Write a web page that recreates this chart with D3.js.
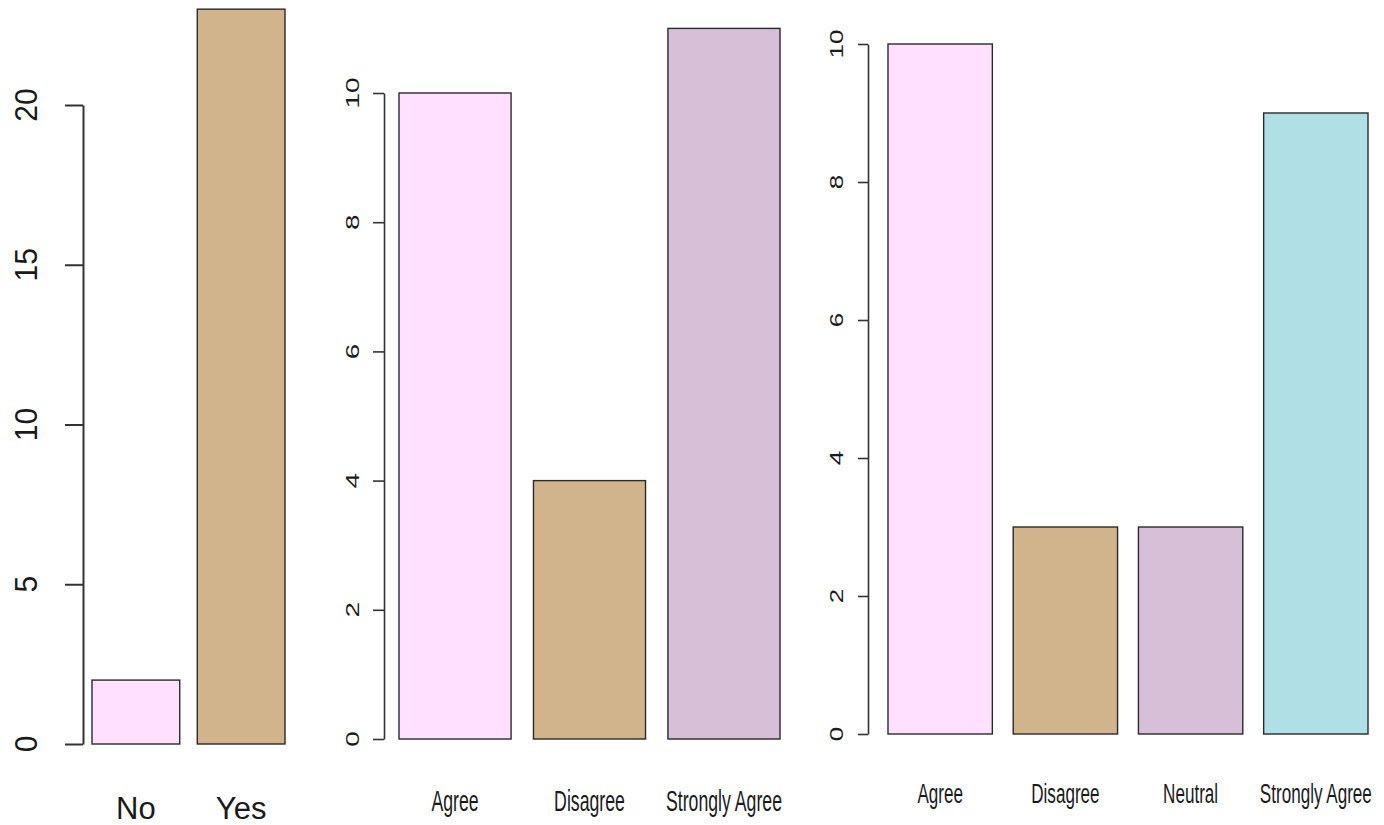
<!DOCTYPE html>
<html>
<head>
<meta charset="utf-8">
<script src="https://cdn.jsdelivr.net/npm/d3@7"></script>
<style>
  html, body { margin: 0; padding: 0; background: #fff; }
  svg { display: block; }
  text { font-family: "Liberation Sans", Arial, Helvetica, sans-serif; fill: #1a1a1a; }
</style>
</head>
<body>
<svg id="chart" width="1384" height="825"></svg>
<script>
// ---- Data ----
const cats1 = ["No", "Yes"];
const vals1 = [2, 23];
const ticks1 = [0, 5, 10, 15, 20];

const cats2 = ["Agree", "Disagree", "Strongly Agree"];
const vals2 = [10, 4, 11];
const ticks2 = [0, 2, 4, 6, 8, 10];

const cats3 = ["Agree", "Disagree", "Neutral", "Strongly Agree"];
const vals3 = [10, 3, 3, 9];
const ticks3 = [0, 2, 4, 6, 8, 10];

const barColors = ["#FFE1FF", "#D2B48C", "#D8BFD8", "#B0E0E6"];

// ---- Panel layout (pixel geometry only) ----
const panels = [
  { cats: cats1, vals: vals1, ticks: ticks1,
    xPix: [92, 285], yPix: [744, 105], axisX: 83, tickLen: 18, axisW: 2,
    tickLabX: 26, tickFont: 30, tickSx: 1.05,
    labBase: 819, labFont: 31, labSx: 1.0 },
  { cats: cats2, vals: vals2, ticks: ticks2,
    xPix: [399, 780], yPix: [739, 93], axisX: 384, tickLen: 11, axisW: 1.6,
    tickLabX: 353, tickFont: 28, tickSx: 0.64,
    labBase: 811, labFont: 29, labSx: 0.61 },
  { cats: cats3, vals: vals3, ticks: ticks3,
    xPix: [888, 1368], yPix: [734, 44], axisX: 868, tickLen: 10, axisW: 1.6,
    tickLabX: 837, tickFont: 26, tickSx: 0.68,
    labBase: 803, labFont: 28, labSx: 0.61 }
];

const svg = d3.select("#chart");

panels.forEach(p => {
  const n = p.cats.length;
  const width = 1, space = 0.2;
  // R barplot coordinates: bar i spans [space + i*(width+space), +width]
  const lefts = p.cats.map((c, i) => space + i * (width + space));
  const x = d3.scaleLinear()
    .domain([space, space + n * width + (n - 1) * space])
    .range(p.xPix);
  const y = d3.scaleLinear()
    .domain([0, d3.max(p.ticks)])
    .range(p.yPix);

  const g = svg.append("g");

  // bars
  g.selectAll("rect.bar")
    .data(p.vals)
    .join("rect")
    .attr("class", "bar")
    .attr("x", (d, i) => x(lefts[i]))
    .attr("width", (d, i) => x(lefts[i] + width) - x(lefts[i]))
    .attr("y", d => y(d))
    .attr("height", d => y(0) - y(d))
    .attr("fill", (d, i) => barColors[i])
    .attr("stroke", "#2a2a2a")
    .attr("stroke-width", 1.4);

  // y axis
  const axis = d3.axisLeft(y)
    .tickValues(p.ticks)
    .tickSize(p.tickLen)
    .tickSizeOuter(0)
    .tickFormat("");
  const ag = g.append("g")
    .attr("transform", `translate(${p.axisX},0)`)
    .call(axis);
  ag.select(".domain").attr("stroke", "#333").attr("stroke-width", p.axisW);
  ag.selectAll(".tick line").attr("stroke", "#333").attr("stroke-width", p.axisW);
  ag.selectAll(".tick text").remove();

  // rotated tick labels
  g.selectAll("text.tick")
    .data(p.ticks)
    .join("text")
    .attr("class", "tick")
    .attr("transform", d => `translate(${p.tickLabX},${y(d)}) scale(${p.tickSx},1) rotate(-90)`)
    .attr("text-anchor", "middle")
    .attr("dy", "0.36em")
    .style("font-size", p.tickFont + "px")
    .text(d => d);

  // category labels
  g.selectAll("text.cat")
    .data(p.cats)
    .join("text")
    .attr("class", "cat")
    .attr("transform", (d, i) => `translate(${x(lefts[i] + width / 2)},${p.labBase}) scale(${p.labSx},1)`)
    .attr("text-anchor", "middle")
    .style("font-size", p.labFont + "px")
    .text(d => d);
});
</script>
</body>
</html>
